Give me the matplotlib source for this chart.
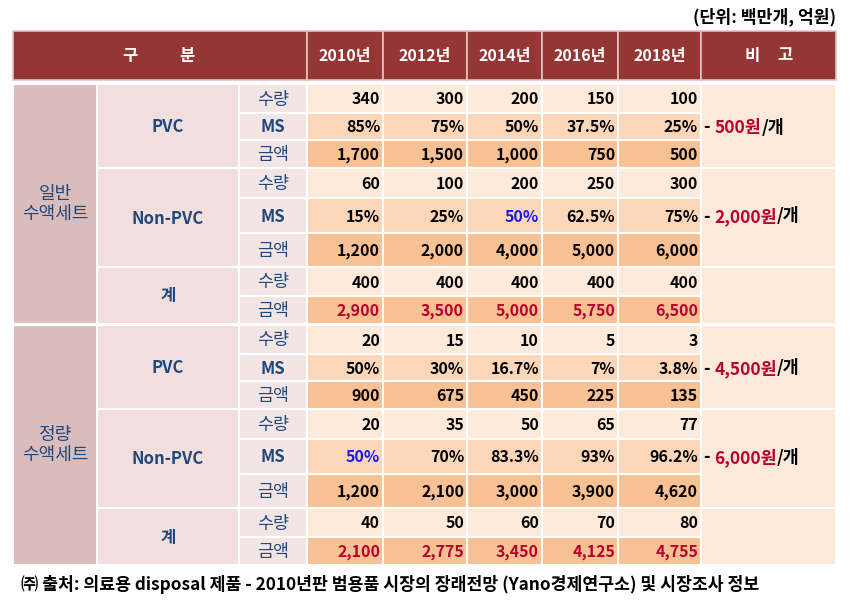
import matplotlib
matplotlib.use('Agg')
import matplotlib.pyplot as plt
from matplotlib.patches import Rectangle

plt.rcParams['font.family'] = ['Noto Sans CJK KR', 'DejaVu Sans']

# ---- data ----
years = ['2010년', '2012년', '2014년', '2016년', '2018년']
groups = ['일반\n수액세트', '정량\n수액세트']
subgroups = ['PVC', 'Non-PVC', '계']

general_pvc_qty = [340, 300, 200, 150, 100]
general_pvc_ms = ['85%', '75%', '50%', '37.5%', '25%']
general_pvc_amt = [1700, 1500, 1000, 750, 500]
general_npvc_qty = [60, 100, 200, 250, 300]
general_npvc_ms = ['15%', '25%', '50%', '62.5%', '75%']
general_npvc_amt = [1200, 2000, 4000, 5000, 6000]
general_tot_qty = [400, 400, 400, 400, 400]
general_tot_amt = [2900, 3500, 5000, 5750, 6500]

fixed_pvc_qty = [20, 15, 10, 5, 3]
fixed_pvc_ms = ['50%', '30%', '16.7%', '7%', '3.8%']
fixed_pvc_amt = [900, 675, 450, 225, 135]
fixed_npvc_qty = [20, 35, 50, 65, 77]
fixed_npvc_ms = ['50%', '70%', '83.3%', '93%', '96.2%']
fixed_npvc_amt = [1200, 2100, 3000, 3900, 4620]
fixed_tot_qty = [40, 50, 60, 70, 80]
fixed_tot_amt = [2100, 2775, 3450, 4125, 4755]

unit_prices = ['500원', '2,000원', '4,500원', '6,000원']
unit_text = '(단위: 백만개, 억원)'
source_text = '㈜ 출처: 의료용 disposal 제품 - 2010년판 범용품 시장의 장래전망 (Yano경제연구소) 및 시장조사 정보'

# ---- layout (pixels) ----
col_x = [13, 97, 239, 307, 383, 467, 542, 618, 701, 836]
head_y = (31, 80)
row_h = [29, 27, 28, 30, 35, 34, 29, 28]
sec_top = [84, 325]

C_HEAD = '#943634'
C_G1 = '#D9BDBD'
C_G2 = '#F2DEDD'
C_G3 = '#F4E5E5'
C_ROW = {'수량': '#FDEADB', 'MS': '#FCD6B8', '금액': '#F8C193'}
C_NOTE = '#FDE9D9'
C_LABEL = '#1F497D'
C_RED = '#B8002E'
C_BLUE = '#1A1AE6'
NUM_FS = 11.5

fig = plt.figure(figsize=(8.55, 6.01), dpi=100)
ax = fig.add_axes([0, 0, 1, 1])
ax.set_xlim(0, 855)
ax.set_ylim(601, 0)
ax.axis('off')


def cell(x0, x1, y0, y1, color, edge='white', lw=1.5):
    ax.add_patch(Rectangle((x0, y0), x1 - x0, y1 - y0, facecolor=color,
                           edgecolor=edge, linewidth=lw))


def fmt(v):
    return v if isinstance(v, str) else f'{v:,}'


# header
hy = sum(head_y) / 2
cell(col_x[0], col_x[3], head_y[0], head_y[1], C_HEAD, '#E2C2C2', 1.2)
ax.text(130, hy, '구', color='white', fontsize=12, fontweight='bold', ha='center', va='center')
ax.text(187, hy, '분', color='white', fontsize=12, fontweight='bold', ha='center', va='center')
for i, yr in enumerate(years):
    cell(col_x[3 + i], col_x[4 + i], head_y[0], head_y[1], C_HEAD, '#E2C2C2', 1.2)
    ax.text((col_x[3 + i] + col_x[4 + i]) / 2, hy, yr, color='white',
            fontsize=NUM_FS, fontweight='bold', ha='center', va='center')
cell(col_x[8], col_x[9], head_y[0], head_y[1], C_HEAD, '#E2C2C2', 1.2)
ax.text(752, hy, '비', color='white', fontsize=12, fontweight='bold', ha='center', va='center')
ax.text(785, hy, '고', color='white', fontsize=12, fontweight='bold', ha='center', va='center')

sections = [
    [('PVC', [('수량', general_pvc_qty), ('MS', general_pvc_ms), ('금액', general_pvc_amt)]),
     ('Non-PVC', [('수량', general_npvc_qty), ('MS', general_npvc_ms), ('금액', general_npvc_amt)]),
     ('계', [('수량', general_tot_qty), ('금액', general_tot_amt)])],
    [('PVC', [('수량', fixed_pvc_qty), ('MS', fixed_pvc_ms), ('금액', fixed_pvc_amt)]),
     ('Non-PVC', [('수량', fixed_npvc_qty), ('MS', fixed_npvc_ms), ('금액', fixed_npvc_amt)]),
     ('계', [('수량', fixed_tot_qty), ('금액', fixed_tot_amt)])],
]
blue_cells = {(0, 1, 2), (1, 1, 0)}

renderer = fig.canvas.get_renderer()


def pieces(x, y, parts):
    for txt, color in parts:
        t = ax.text(x, y, txt, color=color, fontsize=12.5, fontweight='bold',
                    ha='left', va='center')
        bb = t.get_window_extent(renderer)
        x = ax.transData.inverted().transform((bb.x1, bb.y0))[0]


note_i = 0
for s, sec in enumerate(sections):
    y = sec_top[s]
    y_start = y
    r = 0
    for g, (sub, rows) in enumerate(sec):
        sub_start = y
        ms_mid = None
        for label, vals in rows:
            h = row_h[r]
            r += 1
            cell(col_x[2], col_x[3], y, y + h, C_G3)
            ax.text((col_x[2] + col_x[3]) / 2, y + h / 2 + 1, label, color=C_LABEL,
                    fontsize=12.5 if label != 'MS' else 12,
                    fontweight='bold' if label == 'MS' else 'normal',
                    ha='center', va='center')
            for i, v in enumerate(vals):
                cell(col_x[3 + i], col_x[4 + i], y, y + h, C_ROW[label])
                color = 'black'
                if sub == '계' and label == '금액':
                    color = C_RED
                if label == 'MS' and (s, g, i) in blue_cells:
                    color = C_BLUE
                ax.text(col_x[4 + i] - 3, y + h / 2 + 1, fmt(v), color=color,
                        fontsize=NUM_FS, fontweight='bold', ha='right', va='center')
            if label == 'MS':
                ms_mid = y + h / 2
            y += h
        cell(col_x[1], col_x[2], sub_start, y, C_G2)
        ax.text((col_x[1] + col_x[2]) / 2, (sub_start + y) / 2 + 1, sub, color=C_LABEL,
                fontsize=12, fontweight='bold', ha='center', va='center')
        cell(col_x[8], col_x[9], sub_start, y, C_NOTE)
        if ms_mid is not None:
            pieces(col_x[8] + 3, ms_mid + 1, [('- ', 'black'), (unit_prices[note_i], C_RED), ('/개', 'black')])
            note_i += 1
    cell(col_x[0], col_x[1], y_start, y, C_G1)
    ax.text((col_x[0] + col_x[1]) / 2, (y_start + y) / 2, groups[s], color=C_LABEL,
            fontsize=13, ha='center', va='center', linespacing=1.1)

ax.text(col_x[9], 17, unit_text, fontsize=12.4, fontweight='bold', ha='right', va='center')
ax.text(21, 585, source_text, fontsize=12.4, fontweight='bold', ha='left', va='center')

fig.savefig('out.png', dpi=100)
